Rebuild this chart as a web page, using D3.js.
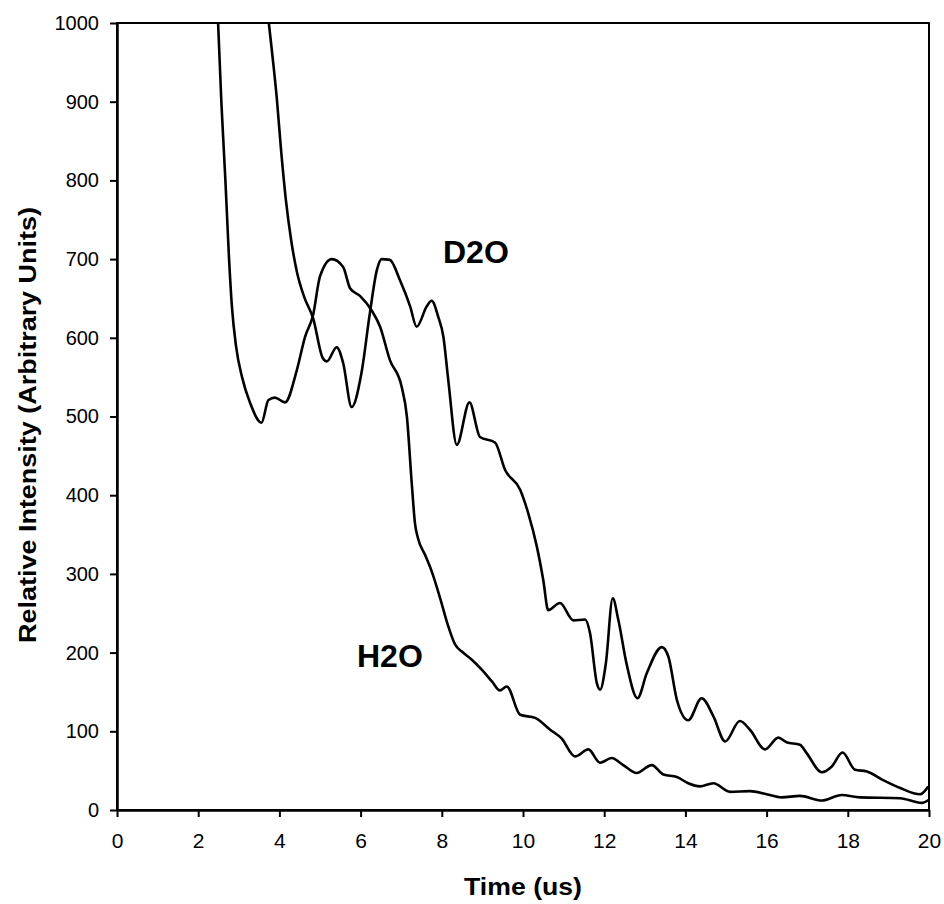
<!DOCTYPE html>
<html>
<head>
    <meta charset="utf-8">
    <style>
        body {
            margin: 0;
            background-color: #FFF;
        }
        text {
            font-family: "Liberation Sans", Arial, sans-serif;
            fill: #000;
        }
    </style>
</head>
<body>
<div id="chartArea"></div>
<script src="https://d3js.org/d3.v7.min.js"></script>

<script>
    /* -----------------------------------
        data
    ----------------------------------- */
    var timeH2O = [2.49, 2.57, 2.67, 2.76, 2.83, 2.93, 3.08, 3.28, 3.56, 3.73, 3.89, 4.14, 4.43, 4.63, 4.83,
        5.00, 5.29, 5.57, 5.74, 5.99, 6.27, 6.48, 6.72, 7.01, 7.14, 7.26, 7.34, 7.41, 7.59, 7.76, 7.96,
        8.15, 8.33, 8.50, 8.74, 8.99, 9.24, 9.43, 9.60, 9.93, 10.30, 10.67, 10.95, 11.28, 11.61, 11.90,
        12.18, 12.47, 12.80, 13.17, 13.46, 13.79, 14.07, 14.36, 14.69, 15.10, 15.59, 16.00, 16.37, 16.82,
        17.36, 17.85, 18.30, 19.29, 19.82, 20.00];
    var intensityH2O = [1000, 900, 800, 700, 640, 590, 550, 517, 492, 521, 524, 518, 559, 601, 629,
        678, 700, 690, 663, 653, 635, 614, 572, 538, 500, 415, 364, 346, 324, 302, 269,
        235, 210, 201, 191, 178, 163, 152, 157, 121, 117, 102, 91, 68, 77, 60,
        66, 57, 47, 57, 45, 42, 34, 30, 34, 23, 24, 20, 16, 18,
        12, 19, 16, 15, 9, 13];

    var timeD2O = [3.74, 3.84, 3.94, 4.04, 4.16, 4.29, 4.43, 4.61, 4.83, 5.07, 5.17, 5.41, 5.57, 5.78,
        6.02, 6.23, 6.40, 6.52, 6.72, 6.97, 7.22, 7.38, 7.63, 7.75, 7.91, 8.04, 8.16, 8.37, 8.68, 8.94,
        9.31, 9.56, 9.93, 10.13, 10.34, 10.50, 10.62, 10.91, 11.24, 11.53, 11.65, 11.82, 11.90, 12.04,
        12.21, 12.35, 12.55, 12.82, 13.05, 13.42, 13.58, 13.79, 14.07, 14.40, 14.69, 14.98, 15.34, 15.59,
        15.96, 16.29, 16.49, 16.82, 16.99, 17.36, 17.60, 17.87, 18.18, 18.47, 18.87, 19.29, 19.78, 19.98];
    var intensityD2O = [1000, 953, 902, 839, 775, 724, 684, 652, 625, 574, 570, 588, 568, 512,
        555, 632, 686, 700, 699, 673, 640, 614, 640, 647, 627, 601, 546, 464, 518, 474,
        467, 432, 407, 377, 335, 292, 254, 263, 241, 242, 225, 161, 153, 186,
        269, 241, 186, 142, 174, 207, 195, 140, 114, 142, 119, 87, 113, 102,
        77, 92, 86, 83, 72, 48, 55, 73, 51, 49, 38, 28, 20, 30];

    var xTicks = [0, 2, 4, 6, 8, 10, 12, 14, 16, 18, 20];
    var yTicks = [0, 100, 200, 300, 400, 500, 600, 700, 800, 900, 1000];

    /* -----------------------------------
        initialize
    ----------------------------------- */
    var width = 944, height = 904;
    var margin = {top: 23, right: 15, bottom: 94, left: 117};

    var svg = d3.select("#chartArea").append("svg")
        .attr("width", width)
        .attr("height", height);

    var x = d3.scaleLinear().domain([0, 20]).range([margin.left, width - margin.right]);
    var y = d3.scaleLinear().domain([0, 1000]).range([height - margin.bottom, margin.top]);

    // frame
    svg.append("rect")
        .attr("x", x(0)).attr("y", y(1000))
        .attr("width", x(20) - x(0)).attr("height", y(0) - y(1000))
        .attr("fill", "none").attr("stroke", "#000").attr("stroke-width", 2);

    // axes
    var yAxis = svg.append("g")
        .attr("transform", "translate(" + x(0) + ",0)")
        .call(d3.axisLeft(y).tickValues(yTicks).tickFormat(d3.format("d"))
            .tickSize(7).tickSizeOuter(0).tickPadding(11));

    var xAxis = svg.append("g")
        .attr("transform", "translate(0," + y(0) + ")")
        .call(d3.axisBottom(x).tickValues(xTicks).tickFormat(d3.format("d"))
            .tickSize(7).tickSizeOuter(0).tickPadding(16));

    [yAxis, xAxis].forEach(function(g) {
        g.select(".domain").attr("stroke", "#000").attr("stroke-width", 2.5);
        g.selectAll(".tick line").attr("stroke", "#000").attr("stroke-width", 2);
        g.selectAll(".tick text").attr("fill", "#000");
    });
    yAxis.selectAll(".tick text").style("font-size", "20px");
    xAxis.selectAll(".tick text").style("font-size", "21px");

    /* -----------------------------------
        curves
    ----------------------------------- */
    var line = d3.line()
        .x(function(d) { return x(d[0]); })
        .y(function(d) { return y(d[1]); })
        .curve(d3.curveMonotoneX);

    var series = [
        d3.zip(timeH2O, intensityH2O),
        d3.zip(timeD2O, intensityD2O)
    ];

    svg.selectAll(".trace").data(series).enter()
        .append("path")
        .attr("class", "trace")
        .attr("d", line)
        .attr("fill", "none")
        .attr("stroke", "#000")
        .attr("stroke-width", 2.6)
        .attr("stroke-linejoin", "round");

    /* -----------------------------------
        labels
    ----------------------------------- */
    svg.append("text")
        .attr("x", 443).attr("y", 263)
        .style("font-size", "32px").style("font-weight", "bold")
        .text("D2O");

    svg.append("text")
        .attr("x", 357).attr("y", 667)
        .style("font-size", "32px").style("font-weight", "bold")
        .text("H2O");

    svg.append("text")
        .attr("x", (x(0) + x(20)) / 2).attr("y", 895)
        .attr("text-anchor", "middle")
        .attr("textLength", 118).attr("lengthAdjust", "spacingAndGlyphs")
        .style("font-size", "24px").style("font-weight", "bold")
        .text("Time (us)");

    svg.append("text")
        .attr("transform", "translate(36,425) rotate(-90)")
        .attr("text-anchor", "middle")
        .attr("textLength", 436).attr("lengthAdjust", "spacingAndGlyphs")
        .style("font-size", "24px").style("font-weight", "bold")
        .text("Relative Intensity (Arbitrary Units)");
</script>
</body>
</html>
